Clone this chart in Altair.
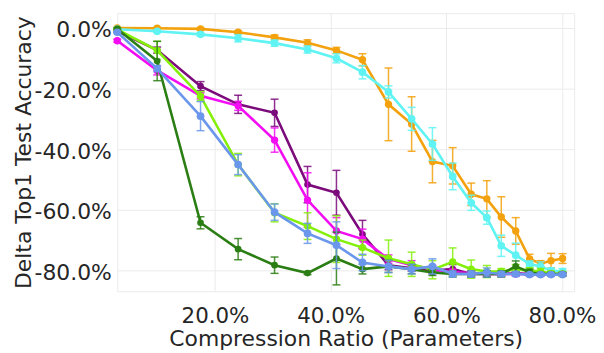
import altair as alt
import pandas as pd

# Compression ratio (%) positions
X = [3.1, 10.0, 17.5, 24.0, 30.3, 36.0, 41.0, 45.5, 50.0, 54.0,
     57.6, 61.1, 64.3, 67.0, 69.5, 72.0, 74.4, 76.3, 78.1, 80.1]

SERIES = ["orange", "cyan", "purple", "magenta", "chartreuse", "darkgreen", "blue"]
COLORS = ["#f3a10c", "#5ff3f3", "#7b0a7b", "#f20df2", "#84f00a", "#2b7e14", "#6a97ec"]

orange_mean = [0.0, -0.1, -0.3, -1.4, -3.1, -4.9, -7.4, -10.5, -25.2, -31.7,
               -44.1, -45.5, -54.9, -56.4, -62.4, -67.0, -76.2, -77.8, -76.8, -76.1]
orange_err = [0.2, 0.3, 0.4, 0.5, 0.8, 1.0, 1.0, 2.0, 12.0, 9.0,
              7.0, 6.0, 3.7, 6.0, 6.7, 4.4, 1.5, 1.0, 2.4, 1.6]

cyan_mean = [-0.4, -1.1, -2.1, -3.4, -5.0, -7.1, -10.0, -14.6, -21.1, -30.0,
             -38.3, -49.0, -57.7, -62.6, -71.9, -75.0, -77.9, -78.7, -80.1, -80.4]
cyan_err = [0.3, 0.4, 0.5, 1.2, 1.0, 1.2, 1.5, 2.2, 2.0, 3.8,
            5.4, 4.4, 2.5, 2.2, 3.5, 4.0, 1.0, 1.5, 0.8, 1.0]

purple_mean = [-1.0, -7.3, -19.2, -25.2, -28.0, -51.7, -54.4, -68.1, -78.3, -79.3,
               -80.1, -79.6, -81.2, -81.2, -81.2, -81.0, -81.2, -81.2, -81.3, -81.3]
purple_err = [0.3, 1.0, 1.5, 3.0, 4.5, 6.0, 7.4, 4.6, 1.5, 1.0,
              1.0, 1.5, 1.0, 1.0, 0.8, 0.8, 0.5, 0.5, 0.5, 0.5]

magenta_mean = [-4.2, -14.0, -22.4, -25.7, -37.0, -56.8, -67.0, -69.7, -76.3, -78.3,
                -79.6, -80.6, -81.0, -81.2, -81.2, -81.2, -81.3, -81.3, -81.3, -81.3]
magenta_err = [0.5, 1.5, 1.0, 1.5, 4.0, 9.0, 4.4, 3.3, 1.4, 1.5,
               1.2, 1.0, 0.8, 1.0, 0.5, 0.5, 0.5, 0.5, 0.5, 0.5]

chartreuse_mean = [-0.5, -7.4, -22.5, -45.1, -61.0, -65.4, -69.7, -72.5, -76.0, -78.0,
                   -79.8, -77.2, -79.6, -80.4, -80.4, -79.6, -80.1, -80.4, -81.0, -81.2]
chartreuse_err = [0.3, 3.0, 1.5, 3.7, 3.0, 4.4, 7.7, 2.5, 6.0, 4.0,
                  3.0, 4.6, 3.0, 2.0, 1.0, 1.5, 1.0, 1.0, 0.8, 0.8]

darkgreen_mean = [-0.3, -10.9, -64.3, -73.0, -78.3, -80.9, -76.1, -79.6, -78.7, -79.6,
                  -80.7, -81.2, -81.2, -81.2, -81.2, -78.7, -80.6, -81.2, -81.2, -81.2]
darkgreen_err = [0.3, 6.5, 2.0, 3.5, 2.7, 0.5, 8.7, 1.6, 2.0, 1.5,
                 1.0, 1.0, 1.0, 1.0, 1.0, 1.8, 1.0, 0.5, 0.5, 0.5]

blue_mean = [-1.4, -13.4, -29.1, -45.1, -60.8, -67.8, -71.7, -77.4, -78.7, -79.6,
             -78.7, -81.2, -81.2, -80.7, -81.2, -81.2, -81.4, -81.4, -81.4, -81.4]
blue_err = [0.3, 1.0, 4.8, 3.3, 2.7, 3.3, 7.7, 2.7, 2.0, 1.6,
            2.5, 1.0, 1.0, 1.5, 0.8, 0.8, 0.5, 0.5, 0.5, 0.5]

MEANS = {"orange": orange_mean, "cyan": cyan_mean, "purple": purple_mean,
         "magenta": magenta_mean, "chartreuse": chartreuse_mean,
         "darkgreen": darkgreen_mean, "blue": blue_mean}
ERRS = {"orange": orange_err, "cyan": cyan_err, "purple": purple_err,
        "magenta": magenta_err, "chartreuse": chartreuse_err,
        "darkgreen": darkgreen_err, "blue": blue_err}
SIZES = {"orange": 55, "cyan": 60, "purple": 45, "magenta": 55,
         "chartreuse": 55, "darkgreen": 45, "blue": 60}

rows = []
for s in SERIES:
    for x, m, e in zip(X, MEANS[s], ERRS[s]):
        rows.append({"series": s, "x": x, "y": m, "lo": m - e, "hi": m + e})
df = pd.DataFrame(rows)

pct = "(datum.value < 0 ? '-' : '') + format(abs(datum.value), '.1f') + '%'"
xscale = alt.Scale(domain=[3.1, 82.1], nice=False, zero=False)
yscale = alt.Scale(domain=[-86.9, 4.9], nice=False, zero=False)
xaxis = alt.Axis(values=[20, 40, 60, 80], labelExpr=pct,
                 title="Compression Ratio (Parameters)")
yaxis = alt.Axis(values=[0, -20, -40, -60, -80], labelExpr=pct,
                 title="Delta Top1 Test Accuracy", titleX=-82)
color = alt.Color("series:N", scale=alt.Scale(domain=SERIES, range=COLORS), legend=None)

layers = []
for s in SERIES:
    base = alt.Chart(df).transform_filter(alt.datum.series == s)
    err = base.mark_errorbar(ticks={"size": 8, "thickness": 1.5}, thickness=1.5,
                             opacity=0.85).encode(
        x=alt.X("x:Q", scale=xscale, axis=xaxis),
        y=alt.Y("lo:Q", scale=yscale, axis=yaxis),
        y2="hi:Q",
        color=color,
    )
    line = base.mark_line(strokeWidth=2.6).encode(
        x=alt.X("x:Q", scale=xscale, axis=xaxis),
        y=alt.Y("y:Q", scale=yscale, axis=yaxis),
        color=color,
    )
    pts = base.mark_point(filled=True, opacity=1, size=SIZES[s]).encode(
        x=alt.X("x:Q", scale=xscale, axis=xaxis),
        y=alt.Y("y:Q", scale=yscale, axis=yaxis),
        color=color,
    )
    layers += [err, line, pts]

chart = alt.layer(*layers).properties(
    width=460, height=280, background="white",
    autosize=alt.AutoSizeParams(type="none"),
    padding={"left": 110, "top": 4, "right": 22, "bottom": 61},
).configure_axis(
    labelFont="DejaVu Sans", titleFont="DejaVu Sans",
    labelFontSize=22, titleFontSize=22, titleFontWeight="normal",
    labelColor="#262626", titleColor="#262626",
    grid=True, gridColor="#ebebeb", gridWidth=1,
    domain=False, ticks=False,
).configure_axisY(labelPadding=6, labelOffset=2).configure_axisX(
    labelFontSize=21.5, titlePadding=2, labelPadding=14
).configure_view(stroke="#ebebeb")

chart.save("out.html", embed_options={"renderer": "svg", "actions": False})
